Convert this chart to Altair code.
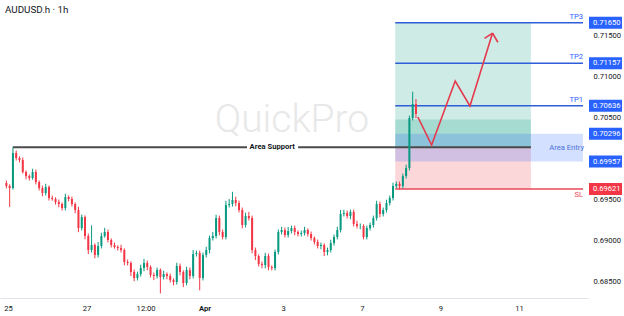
import altair as alt
import pandas as pd

# ---------------- data ----------------
title_text = "AUDUSD.h · 1h"
watermark_text = "QuickPro"

# 2-hour candles (trading-day axis, 0 = 25 Mar 00:00)
first_open = 0.69695
closes = [
    0.69659, 0.69634, 0.70061, 0.70000, 0.69976, 0.69829, 0.69780, 0.69756, 0.69829, 0.69707,
    0.69634, 0.69573, 0.69646, 0.69512, 0.69500, 0.69463, 0.69439, 0.69390, 0.69524, 0.69500,
    0.69439, 0.69366, 0.69146, 0.69280, 0.69049, 0.68878, 0.68939, 0.68817, 0.68927, 0.69049,
    0.69098, 0.69000, 0.68939, 0.68915, 0.68902, 0.68878, 0.68732, 0.68720, 0.68610, 0.68537,
    0.68585, 0.68659, 0.68720, 0.68671, 0.68573, 0.68561, 0.68634, 0.68549, 0.68585, 0.68561,
    0.68512, 0.68488, 0.68683, 0.68610, 0.68476, 0.68634, 0.68561, 0.68829, 0.68841, 0.68537,
    0.68817, 0.68878, 0.69024, 0.69049, 0.69268, 0.69098, 0.69037, 0.69427, 0.69439, 0.69488,
    0.69451, 0.69366, 0.69183, 0.69293, 0.69268, 0.68878, 0.68805, 0.68707, 0.68695, 0.68805,
    0.68671, 0.68659, 0.68854, 0.69098, 0.69122, 0.69061, 0.69110, 0.69146, 0.69098, 0.69073,
    0.69085, 0.69122, 0.69073, 0.69024, 0.68976, 0.68927, 0.68939, 0.68854, 0.68878, 0.68963,
    0.69037, 0.69122, 0.69317, 0.69329, 0.69293, 0.69341, 0.69195, 0.69171, 0.69171, 0.69037,
    0.69146, 0.69183, 0.69268, 0.69439, 0.69317, 0.69366, 0.69451, 0.69512, 0.69659, 0.69683,
    0.69659, 0.69780, 0.69878, 0.70488, 0.70659, 0.70537,
]
upper_pips = [
    3, 2, 7, 3, 2, 3, 2, 2, 4, 3,
    2, 3, 4, 2, 3, 2, 3, 2, 4, 2,
    3, 2, 4, 3, 2, 3, 24, 2, 5, 4,
    5, 3, 2, 3, 2, 4, 2, 3, 2, 3,
    3, 4, 5, 3, 2, 3, 3, 2, 4, 2,
    3, 2, 4, 3, 2, 4, 3, 5, 3, 3,
    3, 4, 3, 5, 4, 3, 3, 5, 6, 10,
    4, 3, 3, 4, 5, 3, 3, 2, 3, 4,
    3, 2, 3, 3, 4, 3, 5, 3, 3, 2,
    3, 4, 2, 3, 2, 3, 3, 2, 3, 4,
    3, 4, 5, 4, 3, 3, 3, 4, 3, 2,
    3, 3, 3, 4, 3, 3, 4, 3, 4, 3,
    3, 3, 4, 3, 15, 6,
]
lower_pips = [
    3, 23, 2, 3, 3, 2, 4, 3, 2, 3,
    3, 4, 3, 3, 2, 3, 4, 3, 3, 3,
    3, 4, 5, 3, 4, 5, 3, 4, 3, 3,
    2, 3, 3, 2, 3, 3, 4, 3, 5, 4,
    3, 3, 4, 4, 3, 5, 3, 20, 3, 4,
    3, 4, 3, 4, 5, 3, 4, 3, 3, 15,
    3, 3, 4, 3, 3, 4, 3, 3, 3, 3,
    4, 3, 4, 3, 3, 4, 5, 3, 4, 4,
    4, 3, 3, 3, 3, 3, 3, 3, 4, 3,
    3, 3, 3, 3, 3, 3, 4, 5, 4, 3,
    3, 3, 3, 3, 3, 4, 3, 3, 4, 3,
    3, 3, 3, 3, 4, 3, 3, 3, 3, 3,
    4, 3, 3, 3, 3, 5,
]
first_candle_day = -0.04
candles_per_day = 12

# trade plan
tp_levels = [0.71650, 0.71157, 0.70636]
tp_names = ["TP3", "TP2", "TP1"]
inner_target = 0.70470
support_level = 0.70130
entry_top = 0.70296
entry_bottom = 0.69957
sl_level = 0.69621
zone_start, zone_end = 9.85, 13.30
support_start, support_end = 0.125, 13.30
support_gap = [6.08, 7.38]
support_label_day = 6.72

# projected path (red arrow)
path_day = [10.425, 10.775, 11.375, 11.75, 12.325]
path_price = [0.70500, 0.70159, 0.70939, 0.70634, 0.71524]
head_day = [12.12, 12.46]
head_price = [0.71458, 0.71412]

# axes
x_domain = [-0.075, 14.625]
y_domain = [0.68293, 0.71927]
x_tick_values = [0, 2, 3.5, 5, 7, 9, 11, 13]
x_tick_labels = ["25", "27", "12:00", "Apr", "3", "7", "9", "11"]
y_tick_values = [0.685, 0.690, 0.695, 0.700, 0.705, 0.710, 0.715]
boxed_prices = [0.71650, 0.71157, 0.70636, 0.70296, 0.69957, 0.69621]
boxed_colors = ["#2962ff", "#2962ff", "#2962ff", "#2962ff", "#2962ff", "#f23645"]

W, H = 588, 298
FONT = "Roboto"
GREEN, RED, BLUE = "#089981", "#f23645", "#2962ff"
SMALL = 7.6

# ---------------- tables ----------------
opens = [first_open] + closes[:-1]
rows = []
for i, (o, c, up, lo) in enumerate(zip(opens, closes, upper_pips, lower_pips)):
    rows.append({
        "d": first_candle_day + i / candles_per_day,
        "open": o, "close": c,
        "high": max(o, c) + up * 0.0001,
        "low": min(o, c) - lo * 0.0001,
        "dir": "up" if c >= o else "down",
    })
candles = pd.DataFrame(rows)

xs = alt.Scale(domain=x_domain, nice=False, zero=False)
ys = alt.Scale(domain=y_domain, nice=False, zero=False)

label_expr = " : ".join(
    f"datum.value == {v} ? '{t}'" for v, t in zip(x_tick_values, x_tick_labels)
) + " : ''"

x_axis = alt.Axis(
    values=x_tick_values, labelExpr=label_expr, title=None, grid=False, ticks=False,
    domain=True, domainColor="#e0e3eb", labelFontSize=SMALL, labelColor="#131722",
    labelPadding=6, labelFlush=False, labelFont=FONT,
    labelFontWeight={"condition": {"test": "datum.value == 5", "value": "bold"}, "value": "normal"},
)
y_axis = alt.Axis(
    values=y_tick_values, format=".5f", orient="right", title=None, grid=False,
    ticks=False, domain=False, labelFontSize=SMALL, labelColor="#131722",
    labelPadding=5, labelAlign="left", labelFont=FONT,
)

def X(field):
    return alt.X(field, type="quantitative", scale=xs, axis=x_axis)

def Y(field):
    return alt.Y(field, type="quantitative", scale=ys, axis=y_axis)

# watermark
watermark = alt.Chart(pd.DataFrame({"t": [watermark_text]})).mark_text(
    fontSize=39, color="#e8e8e8", font=FONT, fontWeight=300, align="center", baseline="middle"
).encode(x=alt.value(292), y=alt.value(120), text="t:N")

# zones
zones = pd.DataFrame({
    "x0": [zone_start, zone_start, zone_start, zone_start],
    "x1": [zone_end, zone_end, zone_end, x_domain[1]],
    "y0": [support_level, support_level, sl_level, entry_bottom],
    "y1": [tp_levels[0], inner_target, support_level, entry_top],
    "zone": ["profit", "profit2", "loss", "entry"],
})
zone_layer = alt.Chart(zones).mark_rect(opacity=0.2).encode(
    x=X("x0"), x2="x1", y=Y("y0"), y2="y1",
    color=alt.Color("zone:N", legend=None,
                    scale=alt.Scale(domain=["profit", "profit2", "loss", "entry"],
                                    range=[GREEN, GREEN, RED, BLUE])),
)

# support line (two segments around the label)
support = pd.DataFrame({
    "x0": [support_start, support_gap[1]],
    "x1": [support_gap[0], support_end],
    "y": [support_level, support_level],
})
support_layer = alt.Chart(support).mark_rule(color="#4a4a4a", strokeWidth=2).encode(
    x=X("x0"), x2="x1", y=Y("y")
)

# TP / SL lines
levels = pd.DataFrame({
    "y": tp_levels + [sl_level],
    "kind": ["tp", "tp", "tp", "sl"],
    "x0": [zone_start] * 4,
    "x1": [x_domain[1]] * 4,
})
level_layer = alt.Chart(levels).mark_rule(strokeWidth=1.5).encode(
    x=X("x0"), x2="x1", y=Y("y"),
    color=alt.Color("kind:N", legend=None,
                    scale=alt.Scale(domain=["tp", "sl"], range=["#2f5fd8", "#e8485a"])),
)

# candles
cdir = alt.Color("dir:N", legend=None,
                 scale=alt.Scale(domain=["up", "down"], range=[GREEN, RED]))
wicks = alt.Chart(candles).mark_rule(strokeWidth=1).encode(
    x=X("d"), y=Y("low"), y2="high", color=cdir
)
bodies = alt.Chart(candles).mark_bar(size=2).encode(
    x=X("d"), y=Y("open"), y2="close", color=cdir
)

# projected path
path_df = pd.DataFrame({"d": path_day, "p": path_price, "o": list(range(len(path_day)))})
path_layer = alt.Chart(path_df).mark_line(color="#e5394c", strokeWidth=1.6).encode(
    x=X("d"), y=Y("p"), order="o:Q"
)
head_rows = []
for k, (hd, hp) in enumerate(zip(head_day, head_price)):
    head_rows.append({"d": path_day[-1], "p": path_price[-1], "seg": k, "o": 0})
    head_rows.append({"d": hd, "p": hp, "seg": k, "o": 1})
head_layer = alt.Chart(pd.DataFrame(head_rows)).mark_line(
    color="#e5394c", strokeWidth=1.6
).encode(x=X("d"), y=Y("p"), detail="seg:N", order="o:Q")

# labels on chart
support_text = alt.Chart(pd.DataFrame({"d": [support_label_day], "p": [support_level], "t": ["Area Support"]})).mark_text(
    fontSize=SMALL, fontWeight="bold", color="#131722", font=FONT, align="center", baseline="middle"
).encode(x=X("d"), y=Y("p"), text="t:N")

tp_text = alt.Chart(pd.DataFrame({"p": tp_levels, "t": tp_names})).mark_text(
    fontSize=SMALL, color="#2962ff", font=FONT, align="right", baseline="middle", dy=-6
).encode(x=alt.value(583), y=Y("p"), text="t:N")

sl_text = alt.Chart(pd.DataFrame({"p": [sl_level], "t": ["SL"]})).mark_text(
    fontSize=SMALL, color="#e8485a", font=FONT, align="right", baseline="middle", dy=6
).encode(x=alt.value(583), y=Y("p"), text="t:N")

entry_text = alt.Chart(pd.DataFrame({"p": [(entry_top + entry_bottom) / 2], "t": ["Area Entry"]})).mark_text(
    fontSize=SMALL, color="#4a72d9", font=FONT, align="right", baseline="middle"
).encode(x=alt.value(584), y=Y("p"), text="t:N")

# price boxes on the right scale
half = 6 / (H / (y_domain[1] - y_domain[0]))
boxes = pd.DataFrame({
    "p": boxed_prices,
    "lo": [p - half for p in boxed_prices],
    "hi": [p + half for p in boxed_prices],
    "t": [f"{p:.5f}" for p in boxed_prices],
    "c": boxed_colors,
})
box_layer = alt.Chart(boxes).mark_rect().encode(
    x=alt.value(589), x2=alt.value(622), y=Y("lo"), y2="hi",
    color=alt.Color("c:N", scale=None, legend=None),
)
box_text = alt.Chart(boxes).mark_text(
    fontSize=SMALL, color="white", font=FONT, align="left", baseline="middle"
).encode(x=alt.value(593), y=Y("p"), text="t:N")

title_layer = alt.Chart(pd.DataFrame({"t": [title_text]})).mark_text(
    fontSize=9.8, color="#131722", font=FONT, align="left", baseline="middle"
).encode(x=alt.value(5), y=alt.value(10), text="t:N")

chart = alt.layer(
    watermark, zone_layer, support_layer, level_layer, wicks, bodies,
    path_layer, head_layer, support_text, tp_text, sl_text, entry_text,
    box_layer, box_text, title_layer,
).resolve_scale(color="independent").properties(
    width=W, height=H,
    autosize=alt.AutoSizeParams(type="none"),
    padding={"left": 0, "top": 0, "right": 36, "bottom": 18},
    background="white",
).configure_view(strokeWidth=0)

chart.save("out.html", embed_options={"renderer": "svg", "actions": False})
